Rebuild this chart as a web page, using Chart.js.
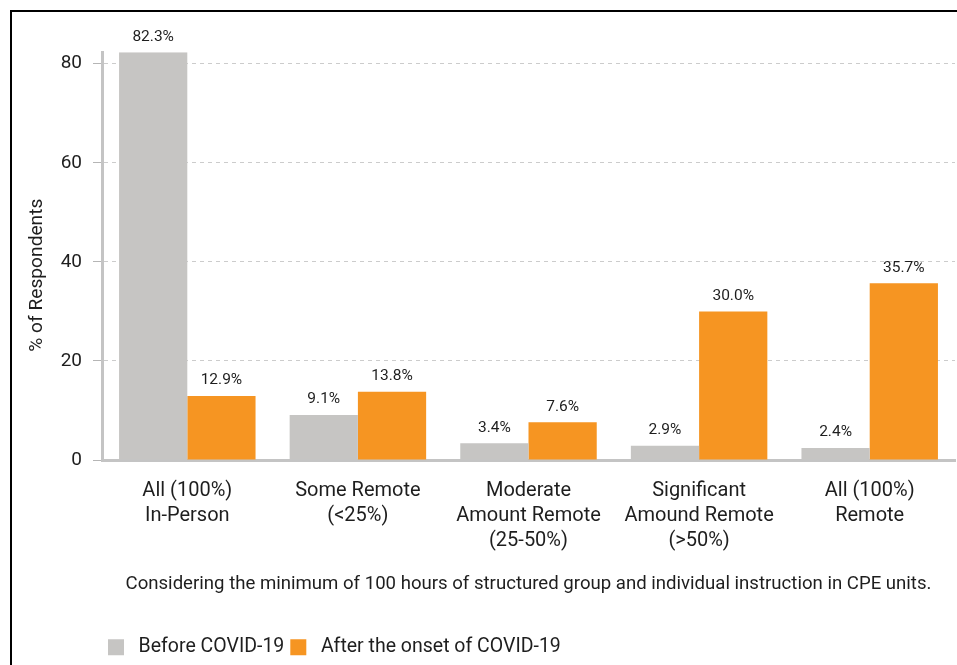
<!DOCTYPE html>
<html>
<head>
<meta charset="utf-8">
<script src="https://cdn.jsdelivr.net/npm/chart.js@4.4.0/dist/chart.umd.min.js"></script>
<style>
  html, body { margin: 0; padding: 0; background: #fff; overflow: hidden; }
  #wrap { position: absolute; left: 0; top: 0; width: 957px; height: 665px; }
  #frame { position: absolute; left: 10px; top: 10px; width: 2000px; height: 2000px;
           border-left: 2px solid #000; border-top: 2px solid #000; pointer-events: none; }
</style>
</head>
<body>
<div id="wrap"><canvas id="c" width="957" height="665"></canvas></div>
<div id="frame"></div>
<script>
const categories = [
  ['All (100%)', 'In-Person'],
  ['Some Remote', '(<25%)'],
  ['Moderate', 'Amount Remote', '(25-50%)'],
  ['Significant', 'Amound Remote', '(>50%)'],
  ['All (100%)', 'Remote']
];
const seriesNames = ['Before COVID-19', 'After the onset of COVID-19'];
const beforeCovid = [82.3, 9.1, 3.4, 2.9, 2.4];
const afterCovid = [12.9, 13.8, 7.6, 30.0, 35.7];
const yTicks = [0, 20, 40, 60, 80];
const yMax = 82.3;
const yTitle = '% of Respondents';
const caption = 'Considering the minimum of 100 hours of structured group and individual instruction in CPE units.';

const FONT = 'Roboto, "Noto Sans", sans-serif';
const TEXT = '#1e1e1e';

const valueLabels = {
  id: 'valueLabels',
  afterDatasetsDraw(chart) {
    const ctx = chart.ctx;
    ctx.save();
    ctx.font = '15.5px ' + FONT;
    ctx.fillStyle = TEXT;
    ctx.textAlign = 'center';
    ctx.textBaseline = 'middle';
    chart.data.datasets.forEach((ds, i) => {
      const meta = chart.getDatasetMeta(i);
      meta.data.forEach((el, j) => {
        ctx.fillText(ds.data[j].toFixed(1) + '%', el.x, el.y - 15.5);
      });
    });
    ctx.restore();
  }
};

new Chart(document.getElementById('c'), {
  type: 'bar',
  data: {
    labels: categories,
    datasets: [
      { label: seriesNames[0], data: beforeCovid, backgroundColor: '#c6c5c3', borderWidth: 0 },
      { label: seriesNames[1], data: afterCovid, backgroundColor: '#f69522', borderWidth: 0 }
    ]
  },
  options: {
    responsive: false,
    animation: false,
    devicePixelRatio: 1,
    categoryPercentage: 0.8,
    barPercentage: 1.0,
    layout: { padding: { top: 52.3, right: 2, bottom: -2, left: 0 } },
    plugins: {
      legend: {
        position: 'bottom',
        align: 'start',
        fullSize: false,
        labels: {
          boxWidth: 16, boxHeight: 16, padding: 6,
          color: TEXT,
          font: { family: FONT, size: 19.5, lineHeight: 1 },
          generateLabels(chart) {
            return Chart.defaults.plugins.legend.labels.generateLabels(chart)
              .map(item => Object.assign(item, { text: ' ' + item.text }));
          }
        }
      },
      tooltip: { enabled: false }
    },
    scales: {
      x: {
        grid: { display: false },
        border: { display: true, color: '#c4c4c4', width: 3 },
        ticks: {
          color: TEXT, padding: 10, maxRotation: 0, autoSkip: false,
          font: { family: FONT, size: 20, lineHeight: 1.25 }
        },
        title: {
          display: true, text: caption, color: TEXT,
          font: { family: FONT, size: 18.6, lineHeight: 1.2 },
          padding: { top: 0, bottom: 36.3 }
        },
        afterFit(scale) { scale.height = 171.5; }
      },
      y: {
        min: 0, max: yMax,
        afterBuildTicks(scale) { scale.ticks = yTicks.map(v => ({ value: v })); },
        grid: {
          color: '#cccccc', lineWidth: 1, tickLength: 9,
          tickColor: '#b5b5b5', tickBorderDash: []
        },
        border: { display: true, color: '#c4c4c4', width: 3, dash: [4, 4] },
        ticks: {
          color: TEXT, padding: 11,
          font: { family: FONT, size: 19 }
        },
        title: {
          display: true, text: yTitle + '        ', color: TEXT,
          font: { family: FONT, size: 19.2, lineHeight: 1.2 },
          padding: { top: 26, bottom: 0 }
        },
        afterFit(scale) { scale.width = 102; }
      }
    }
  },
  plugins: [valueLabels]
});
</script>
</body>
</html>
